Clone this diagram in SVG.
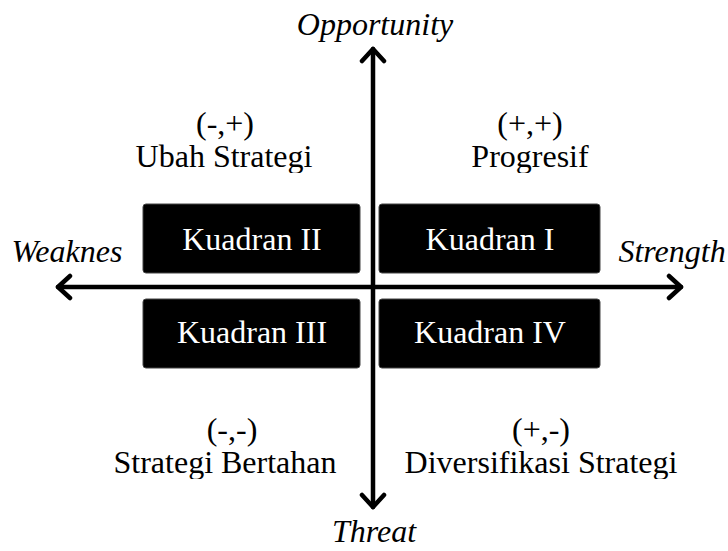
<svg xmlns="http://www.w3.org/2000/svg" width="728" height="551" viewBox="0 0 728 551">
<style>
.t{font-family:"Liberation Serif","Times New Roman",serif;font-size:32px;fill:#000;text-anchor:middle}
.i{font-style:italic}
.w{fill:#fff}
.box{fill:#000;stroke:#444;stroke-width:1}
.ax{stroke:#000;stroke-width:4.5;fill:none;stroke-linecap:round;stroke-linejoin:round}
</style>
<defs>
<clipPath id="c1"><rect x="0" y="100" width="728" height="73"/></clipPath>
<clipPath id="c2"><rect x="0" y="410" width="728" height="69"/></clipPath>
</defs>
<g id="connectors">
<path class="ax" d="M373 49 V507 M58 287 H681"/>
<path class="ax" d="M362 61 L373 49 L384 61 M362 495 L373 507 L384 495 M70 276 L58 287 L70 298 M669 276 L681 287 L669 298"/>
</g>
<g id="opportunity"><text class="t i" x="375" y="35">Opportunity</text></g>
<g id="threat"><text class="t i" x="374" y="542">Threat</text></g>
<g id="weaknes"><text class="t i" x="67" y="262">Weaknes</text></g>
<g id="strength"><text class="t i" x="672" y="262">Strength</text></g>
<g id="label-q2" clip-path="url(#c1)"><text class="t" x="225" y="134">(-,+)</text><text class="t" x="224" y="167">Ubah Strategi</text></g>
<g id="label-q1" clip-path="url(#c1)"><text class="t" x="530" y="134">(+,+)</text><text class="t" x="530" y="167">Progresif</text></g>
<g id="label-q3" clip-path="url(#c2)"><text class="t" x="232" y="440">(-,-)</text><text class="t" x="225" y="473">Strategi Bertahan</text></g>
<g id="label-q4" clip-path="url(#c2)"><text class="t" x="541" y="440">(+,-)</text><text class="t" x="541" y="473">Diversifikasi Strategi</text></g>
<g id="kuadran2"><rect class="box" x="143" y="204" width="217" height="69" rx="3"/><text class="t w" x="252" y="250">Kuadran II</text></g>
<g id="kuadran1"><rect class="box" x="379" y="204" width="221" height="69" rx="3"/><text class="t w" x="490" y="250">Kuadran I</text></g>
<g id="kuadran3"><rect class="box" x="143" y="299" width="217" height="69" rx="3"/><text class="t w" x="252" y="343">Kuadran III</text></g>
<g id="kuadran4"><rect class="box" x="379" y="299" width="221" height="69" rx="3"/><text class="t w" x="490" y="343">Kuadran IV</text></g>
</svg>
